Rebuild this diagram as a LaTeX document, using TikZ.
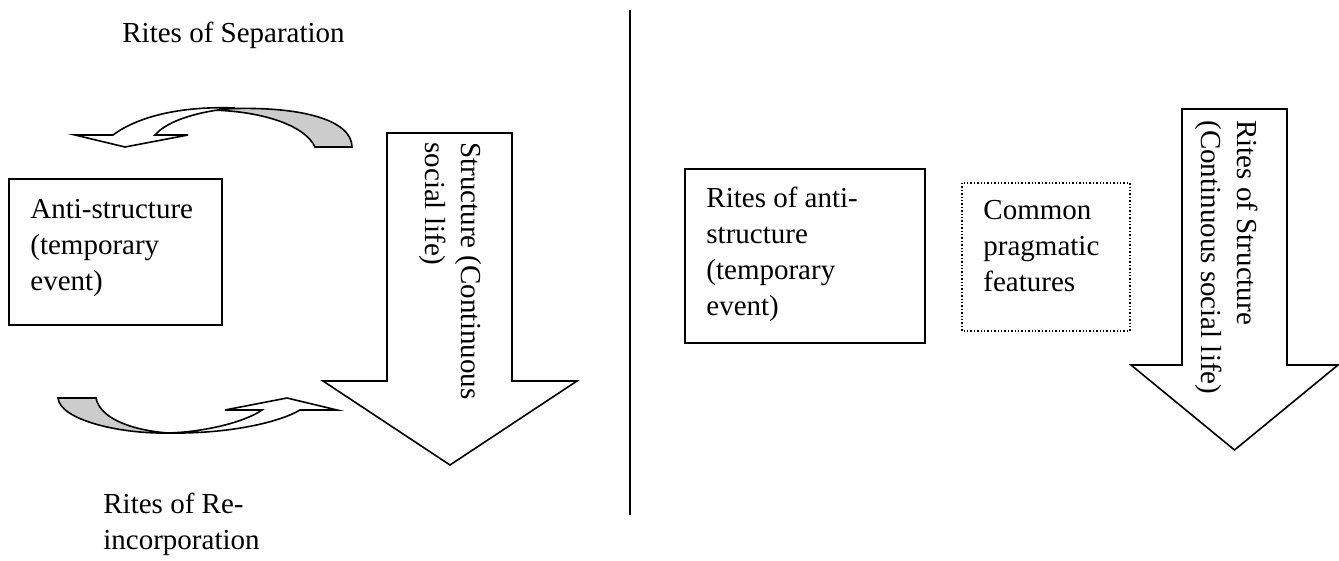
\documentclass[tikz,border=0pt]{standalone}
\usepackage{fontspec}
\setmainfont{Liberation Serif}
\begin{document}
\begin{tikzpicture}[x=0.5pt,y=-0.5pt,line join=miter,
  txt/.style={font=\fontsize{14.5}{18}\selectfont, inner sep=0pt, align=left, anchor=north west},
  shp/.style={draw=black, line width=0.8pt, fill=white},
  backside/.style={draw=black, line width=0.8pt, fill=black!20},
  dotbox/.style={draw=black, line width=0.7pt, densely dotted},
  divider/.style={draw=black, line width=0.7pt}]
\useasboundingbox (0,0) rectangle (1339,561);

% ---------- left half ----------
\node[txt] (sep) at (122,22) {Rites of Separation};

% curved arrow (separation)
\path[backside] (205,110) .. controls (300,103) and (352,120) .. (352,147)
  -- (315,147) .. controls (305,125) and (260,110) .. (205,110) -- cycle;
\path[shp] (75,135) -- (113,135) .. controls (140,115) and (185,106) .. (235,108)
  .. controls (200,111) and (168,120) .. (155,135) -- (188,135) -- (125,147) -- cycle;

% anti-structure box
\draw[shp] (9,179) coordinate (lbnw) rectangle (222,325) coordinate (lbse);
\node[txt] (anti) at (30,199) {Anti-structure\\(temporary\\event)};

% curved arrow (re-incorporation)
\path[backside] (58,398) -- (96,398) .. controls (100,418) and (130,430) .. (168,433)
  .. controls (120,434) and (60,420) .. (58,398) -- cycle;
\path[shp] (168,433) .. controls (230,434) and (280,422) .. (300,410) -- (337,410)
  -- (287,398) -- (225,410) -- (262,410) .. controls (245,422) and (205,432) .. (168,433) -- cycle;

\node[txt] (reinc) at (103,493) {Rites of Re-\\incorporation};

% big down arrow (structure)
\path[shp] (387,133) -- (512,133) -- (512,381) -- (577,381) -- (450,465)
  -- (323,381) -- (387,381) -- cycle;
\node[txt, rotate=-90] (struct) at (482,142) {Structure (Continuous\\social life)};

% ---------- divider ----------
\coordinate (dtop) at (630,10);
\coordinate (dbot) at (630,515);
\draw[divider] (dtop) -- (dbot);

% ---------- right half ----------
\draw[shp] (685,169) coordinate (rbnw) rectangle (925,343) coordinate (rbse);
\node[txt] (rites) at (706,187) {Rites of anti-\\structure\\(temporary\\event)};

\draw[dotbox] (962,183) coordinate (dbnw) rectangle (1130,331) coordinate (dbse);
\node[txt] (common) at (983,200) {Common\\pragmatic\\features};

\path[shp] (1182,109) -- (1287,109) -- (1287,365) -- (1338,365) -- (1234.5,450)
  -- (1131,365) -- (1182,365) -- cycle;
\node[txt, rotate=-90] (ritesstr) at (1258,120) {Rites of Structure\\(Continuous social life)};
\end{tikzpicture}
\end{document}
